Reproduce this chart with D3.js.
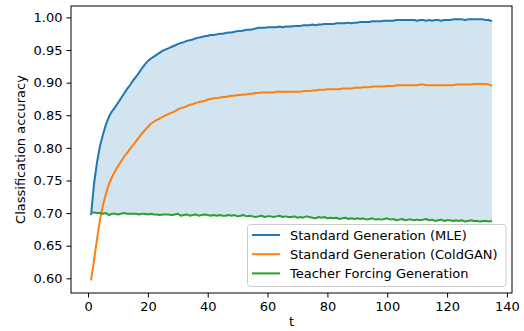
<!DOCTYPE html>
<html>
<head>
<meta charset="utf-8">
<script src="https://cdn.jsdelivr.net/npm/d3@7"></script>
<style>
  body { margin: 0; background: #fff; }
  svg text { font-family: "DejaVu Sans", sans-serif; fill: #000; }
</style>
</head>
<body>
<svg id="chart" width="524" height="331"></svg>
<script>
// one value per step t = 1..135
const mle = [
    0.697, 0.745, 0.778, 0.803, 0.821, 0.836, 0.848, 0.856, 0.862, 0.869,
    0.876, 0.883, 0.890, 0.896, 0.903, 0.909, 0.915, 0.922, 0.928, 0.933,
    0.937, 0.940, 0.943, 0.946, 0.949, 0.951, 0.953, 0.955, 0.957, 0.959,
    0.961, 0.962, 0.964, 0.965, 0.966, 0.968, 0.969, 0.970, 0.971, 0.972,
    0.973, 0.973, 0.974, 0.975, 0.975, 0.976, 0.977, 0.977, 0.978, 0.979,
    0.979, 0.980, 0.981, 0.981, 0.982, 0.983, 0.984, 0.984, 0.984, 0.985,
    0.985, 0.985, 0.985, 0.986, 0.985, 0.986, 0.986, 0.986, 0.987, 0.987,
    0.987, 0.988, 0.988, 0.988, 0.989, 0.988, 0.989, 0.989, 0.990, 0.990,
    0.990, 0.990, 0.991, 0.991, 0.991, 0.991, 0.992, 0.991, 0.992, 0.992,
    0.993, 0.993, 0.993, 0.993, 0.994, 0.994, 0.994, 0.994, 0.995, 0.995,
    0.995, 0.995, 0.996, 0.996, 0.996, 0.996, 0.996, 0.996, 0.996, 0.995,
    0.996, 0.996, 0.995, 0.996, 0.995, 0.996, 0.996, 0.995, 0.996, 0.996,
    0.996, 0.997, 0.997, 0.997, 0.997, 0.996, 0.997, 0.997, 0.997, 0.997,
    0.997, 0.997, 0.996, 0.996, 0.994
];

const coldgan = [
    0.597, 0.628, 0.660, 0.690, 0.712, 0.730, 0.745, 0.755, 0.764, 0.772,
    0.779, 0.786, 0.792, 0.798, 0.804, 0.810, 0.816, 0.822, 0.827, 0.832,
    0.837, 0.840, 0.843, 0.845, 0.848, 0.850, 0.852, 0.854, 0.856, 0.859,
    0.861, 0.862, 0.864, 0.866, 0.867, 0.869, 0.870, 0.871, 0.872, 0.874,
    0.875, 0.876, 0.876, 0.877, 0.878, 0.878, 0.879, 0.880, 0.880, 0.881,
    0.881, 0.882, 0.882, 0.883, 0.883, 0.884, 0.884, 0.885, 0.885, 0.885,
    0.885, 0.885, 0.886, 0.886, 0.886, 0.886, 0.886, 0.886, 0.886, 0.886,
    0.886, 0.887, 0.887, 0.887, 0.888, 0.888, 0.889, 0.889, 0.889, 0.890,
    0.890, 0.890, 0.890, 0.890, 0.891, 0.891, 0.891, 0.891, 0.892, 0.892,
    0.892, 0.893, 0.893, 0.893, 0.894, 0.894, 0.894, 0.894, 0.894, 0.895,
    0.895, 0.895, 0.896, 0.896, 0.896, 0.896, 0.896, 0.896, 0.896, 0.896,
    0.897, 0.897, 0.896, 0.896, 0.896, 0.896, 0.896, 0.896, 0.896, 0.896,
    0.896, 0.896, 0.897, 0.897, 0.897, 0.897, 0.897, 0.897, 0.898, 0.898,
    0.898, 0.898, 0.898, 0.897, 0.895
];

const teacher = [
    0.701, 0.701, 0.700, 0.700, 0.699, 0.700, 0.697, 0.699, 0.699, 0.698,
    0.699, 0.700, 0.699, 0.699, 0.699, 0.699, 0.698, 0.699, 0.699, 0.698,
    0.699, 0.698, 0.698, 0.697, 0.698, 0.698, 0.698, 0.697, 0.698, 0.699,
    0.696, 0.697, 0.698, 0.696, 0.697, 0.698, 0.696, 0.697, 0.698, 0.697,
    0.696, 0.697, 0.696, 0.697, 0.696, 0.696, 0.697, 0.696, 0.697, 0.695,
    0.696, 0.697, 0.695, 0.696, 0.695, 0.694, 0.695, 0.696, 0.694, 0.695,
    0.695, 0.694, 0.695, 0.696, 0.694, 0.695, 0.694, 0.694, 0.695, 0.693,
    0.694, 0.693, 0.695, 0.694, 0.693, 0.692, 0.694, 0.693, 0.694, 0.692,
    0.693, 0.692, 0.693, 0.691, 0.692, 0.693, 0.691, 0.692, 0.691, 0.692,
    0.691, 0.692, 0.690, 0.691, 0.692, 0.690, 0.691, 0.690, 0.691, 0.692,
    0.690, 0.691, 0.689, 0.690, 0.691, 0.689, 0.690, 0.690, 0.689, 0.690,
    0.689, 0.690, 0.691, 0.689, 0.690, 0.688, 0.689, 0.690, 0.688, 0.689,
    0.689, 0.688, 0.689, 0.688, 0.689, 0.687, 0.688, 0.689, 0.688, 0.688,
    0.687, 0.688, 0.688, 0.687, 0.688
];

const seriesNames = [
    'Standard Generation (MLE)',
    'Standard Generation (ColdGAN)',
    'Teacher Forcing Generation',
];
const seriesColors = ['#1f77b4', '#ff7f0e', '#2ca02c'];
const xTicks = [0, 20, 40, 60, 80, 100, 120, 140];
const yTicks = [0.6, 0.65, 0.7, 0.75, 0.8, 0.85, 0.9, 0.95, 1.0];

const svg = d3.select('#chart');
const margin = { top: 6, right: 12, bottom: 38, left: 71 };
const w = 524 - margin.left - margin.right;
const h = 331 - margin.top - margin.bottom;
const fontSize = '13px';

const steps = d3.range(1, mle.length + 1);

const x = d3.scaleLinear().domain([1 - 6.7, 135 + 6.7]).range([0, w]);
const y = d3.scaleLinear().domain([0.5775, 1.0175]).range([h, 0]);

const g = svg.append('g').attr('transform', `translate(${margin.left},${margin.top})`);

// band between MLE and teacher forcing
const area = d3
    .area()
    .x((d, i) => x(steps[i]))
    .y0((d, i) => y(teacher[i]))
    .y1((d) => y(d));

g.append('path')
    .datum(mle)
    .attr('d', area)
    .attr('fill', '#1f77b4')
    .attr('fill-opacity', 0.2);

const line = d3
    .line()
    .x((d, i) => x(steps[i]))
    .y((d) => y(d));

[mle, coldgan, teacher].forEach((s, k) => {
    g.append('path')
        .datum(s)
        .attr('d', line)
        .attr('fill', 'none')
        .attr('stroke', seriesColors[k])
        .attr('stroke-width', 2)
        .attr('stroke-linejoin', 'round');
});

// axes
const xAxis = g
    .append('g')
    .attr('transform', `translate(0,${h})`)
    .call(d3.axisBottom(x).tickValues(xTicks).tickSizeInner(4.5).tickSizeOuter(0).tickPadding(4));
const yAxis = g
    .append('g')
    .call(d3.axisLeft(y).tickValues(yTicks).tickFormat(d3.format('.2f')).tickSizeInner(4.5).tickSizeOuter(0).tickPadding(4));

[xAxis, yAxis].forEach((a) => {
    a.selectAll('text').style('font-size', fontSize).style('font-family', '"DejaVu Sans", sans-serif');
    a.select('.domain').remove();
    a.selectAll('line').attr('stroke', '#000').attr('stroke-width', 1);
});

g.append('rect')
    .attr('x', 0)
    .attr('y', 0)
    .attr('width', w)
    .attr('height', h)
    .attr('fill', 'none')
    .attr('stroke', '#000')
    .attr('stroke-width', 1);

svg.append('text')
    .attr('x', margin.left + w / 2)
    .attr('y', 326)
    .attr('text-anchor', 'middle')
    .style('font-size', fontSize)
    .text('t');

svg.append('text')
    .attr('transform', `translate(25,${margin.top + h / 2}) rotate(-90)`)
    .attr('text-anchor', 'middle')
    .style('font-size', fontSize)
    .text('Classification accuracy');

// legend
const legend = svg.append('g').attr('transform', 'translate(247.5,224.5)');
legend
    .append('rect')
    .attr('width', 258.5)
    .attr('height', 62)
    .attr('rx', 3)
    .attr('fill', '#fff')
    .attr('fill-opacity', 0.8)
    .attr('stroke', '#ccc')
    .attr('stroke-width', 1);

const rows = legend
    .selectAll('.legend-row')
    .data(seriesNames)
    .enter()
    .append('g')
    .attr('class', 'legend-row')
    .attr('transform', (d, i) => `translate(0,${10.5 + i * 19.2})`);

rows.append('line')
    .attr('x1', 4.5)
    .attr('x2', 32.5)
    .attr('stroke', (d, i) => seriesColors[i])
    .attr('stroke-width', 2);

rows.append('text')
    .attr('x', 42.5)
    .attr('dy', '0.35em')
    .style('font-size', fontSize)
    .text((d) => d);
</script>
</body>
</html>
